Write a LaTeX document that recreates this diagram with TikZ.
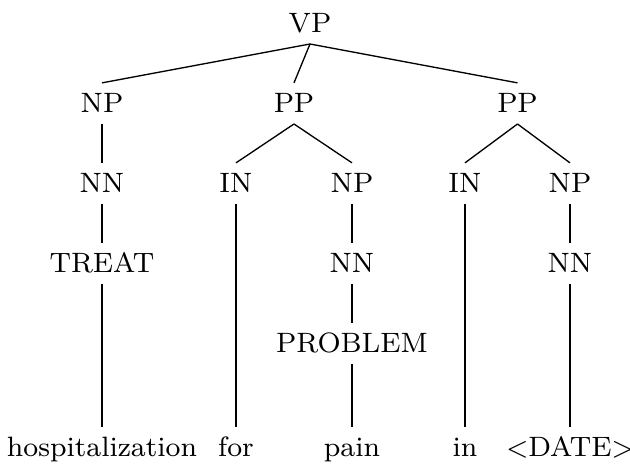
\documentclass[tikz,border=0pt]{standalone}
\begin{document}
\begin{tikzpicture}[x=0.3pt,y=-0.3pt,
  tag/.style={anchor=base,inner xsep=0pt,inner ysep=3.1pt,
    text height=5.74pt,text depth=0pt,font=\fontsize{8.4}{10}\selectfont},
  edge/.style={line width=0.4pt}]
\useasboundingbox (0,0) rectangle (630,464);
% internal nodes
\node[tag] (vp)  at (310,33)  {VP};
\node[tag] (np1) at (102,113) {NP};
\node[tag] (pp1) at (294,113) {PP};
\node[tag] (pp2) at (517.5,113) {PP};
\node[tag] (nn1) at (102,193) {NN};
\node[tag] (in1) at (236,193) {IN};
\node[tag] (np2) at (352,193) {NP};
\node[tag] (in2) at (465,193) {IN};
\node[tag] (np3) at (570,193) {NP};
\node[tag] (tr)  at (102,273) {TREAT};
\node[tag] (nn2) at (352,273) {NN};
\node[tag] (nn3) at (570,273) {NN};
\node[tag] (pr)  at (352,353) {PROBLEM};
% leaves
\node[tag] (w1) at (102,457) {hospitalization};
\node[tag] (w2) at (236,457) {for};
\node[tag] (w3) at (352,457) {pain};
\node[tag] (w4) at (465,457) {in};
\node[tag] (w5) at (570,457) {$<$DATE$>$};
% edges
\foreach \p/\c in {vp/np1,vp/pp1,vp/pp2,np1/nn1,pp1/in1,pp1/np2,pp2/in2,pp2/np3,
  nn1/tr,np2/nn2,np3/nn3,nn2/pr,tr/w1,in1/w2,pr/w3,in2/w4,nn3/w5}
  \draw[edge] (\p.south) -- (\c.north);
\end{tikzpicture}
\end{document}
